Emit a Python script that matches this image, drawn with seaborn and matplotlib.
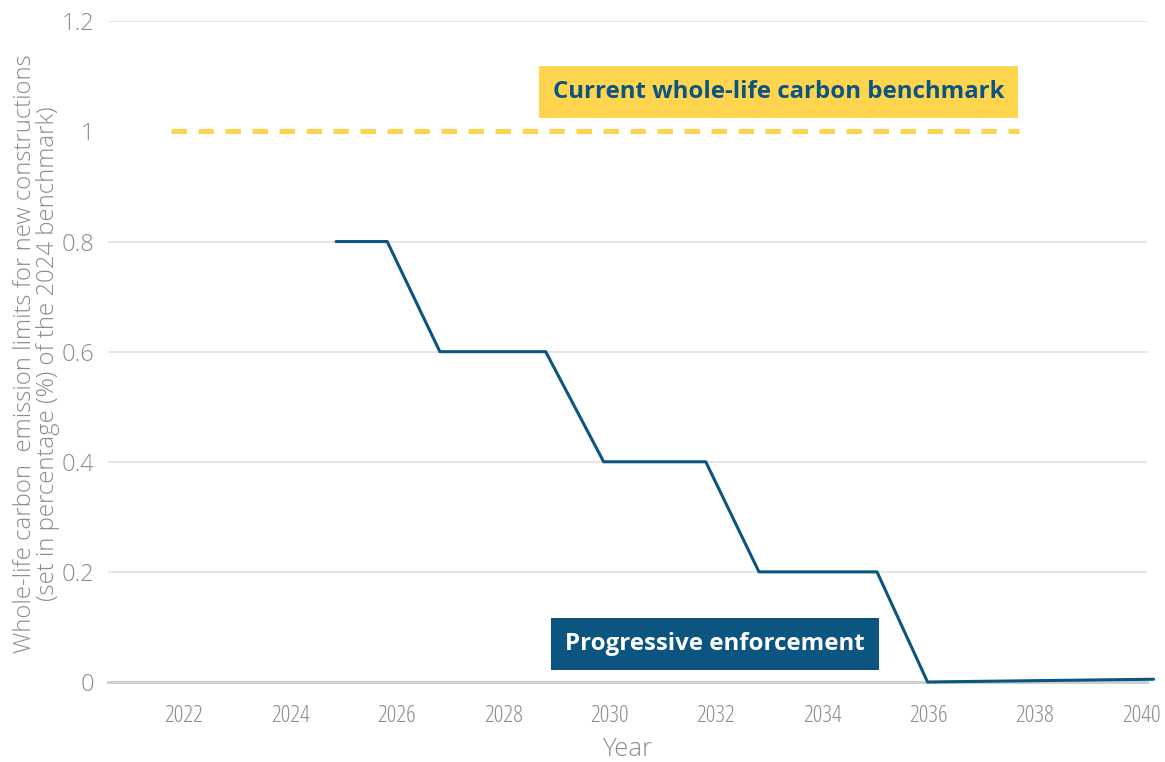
import matplotlib
matplotlib.use("Agg")
import matplotlib.pyplot as plt
import seaborn as sns
import pandas as pd

# progressive enforcement path (year, share of 2024 benchmark)
years = [2024.86, 2025.82, 2026.81, 2028.80, 2029.89, 2031.81, 2032.81, 2035.03, 2035.98, 2040.23]
limits = [0.80, 0.80, 0.60, 0.60, 0.40, 0.40, 0.20, 0.20, 0.0, 0.005]

# current benchmark
bench_years = [2021.76, 2037.70]
bench_values = [1.0, 1.0]

x_ticks = [2022, 2024, 2026, 2028, 2030, 2032, 2034, 2036, 2038, 2040]
y_ticks = [0, 0.2, 0.4, 0.6, 0.8, 1.0, 1.2]
y_tick_labels = ["0", "0.2", "0.4", "0.6", "0.8", "1", "1.2"]

BLUE = "#0b5580"
YELLOW = "#ffd54f"
GREY = "#8c8c8c"


def main():
    sns.set_theme(style="white")
    plt.rcParams["font.family"] = ["Open Sans", "DejaVu Sans"]

    df = pd.DataFrame({"Year": years, "limit": limits})
    bench = pd.DataFrame({"Year": bench_years, "limit": bench_values})

    fig = plt.figure(figsize=(11.65, 7.62), dpi=100)
    ax = fig.add_axes([0.0927, 0.105, 0.892, 0.867])

    sns.lineplot(data=bench, x="Year", y="limit", ax=ax, color=YELLOW,
                 linewidth=3.6, linestyle=(0, (3.1, 2.3)), zorder=3)
    sns.lineplot(data=df, x="Year", y="limit", ax=ax, color=BLUE,
                 linewidth=2.2, zorder=4, clip_on=False)

    ax.set_xlim(2020.57, 2040.11)
    ax.set_ylim(0, 1.2)

    ax.set_yticks(y_ticks)
    ax.set_yticklabels(y_tick_labels)
    ax.set_xticks(x_ticks)
    ax.grid(axis="y", color="#e3e3e3", linewidth=1.3)
    ax.set_axisbelow(True)
    # no gridline under the benchmark line
    ax.yaxis.get_gridlines()[y_ticks.index(1.0)].set_visible(False)

    for s in ["top", "right", "left"]:
        ax.spines[s].set_visible(False)
    ax.spines["bottom"].set_color("#cfcfcf")
    ax.spines["bottom"].set_linewidth(2.2)

    ax.tick_params(axis="y", length=0, pad=10, labelsize=17, labelcolor=GREY)
    ax.tick_params(axis="x", length=10, width=2.2, color="#cfcfcf", pad=6,
                   labelsize=17.5, labelcolor=GREY, direction="out")
    for lab in ax.get_yticklabels():
        lab.set_fontweight("light")
    for lab in ax.get_xticklabels():
        lab.set_fontweight("light")
        lab.set_fontstretch("condensed")

    ax.set_xlabel("Year", fontsize=18.5, color=GREY, fontweight="light", labelpad=6)
    ax.set_ylabel("Whole-life carbon  emission limits for new constructions\n"
                  "(set in percentage (%) of the 2024 benchmark)",
                  fontsize=17.2, color=GREY, fontweight="light",
                  linespacing=0.95)
    ax.yaxis.set_label_coords(-0.046, 0.497)

    ax.text(2033.18, 1.071, "Current whole-life carbon benchmark",
            ha="center", va="center", fontsize=17.3, fontweight="bold", color=BLUE,
            bbox=dict(boxstyle="square,pad=0.58", fc=YELLOW, ec="none"), zorder=5)
    ax.text(2031.98, 0.069, "Progressive enforcement",
            ha="center", va="center", fontsize=17.3, fontweight="bold", color="white",
            bbox=dict(boxstyle="square,pad=0.58", fc=BLUE, ec="none"), zorder=5)

    fig.savefig("out.png", dpi=100)


if __name__ == "__main__":
    main()
